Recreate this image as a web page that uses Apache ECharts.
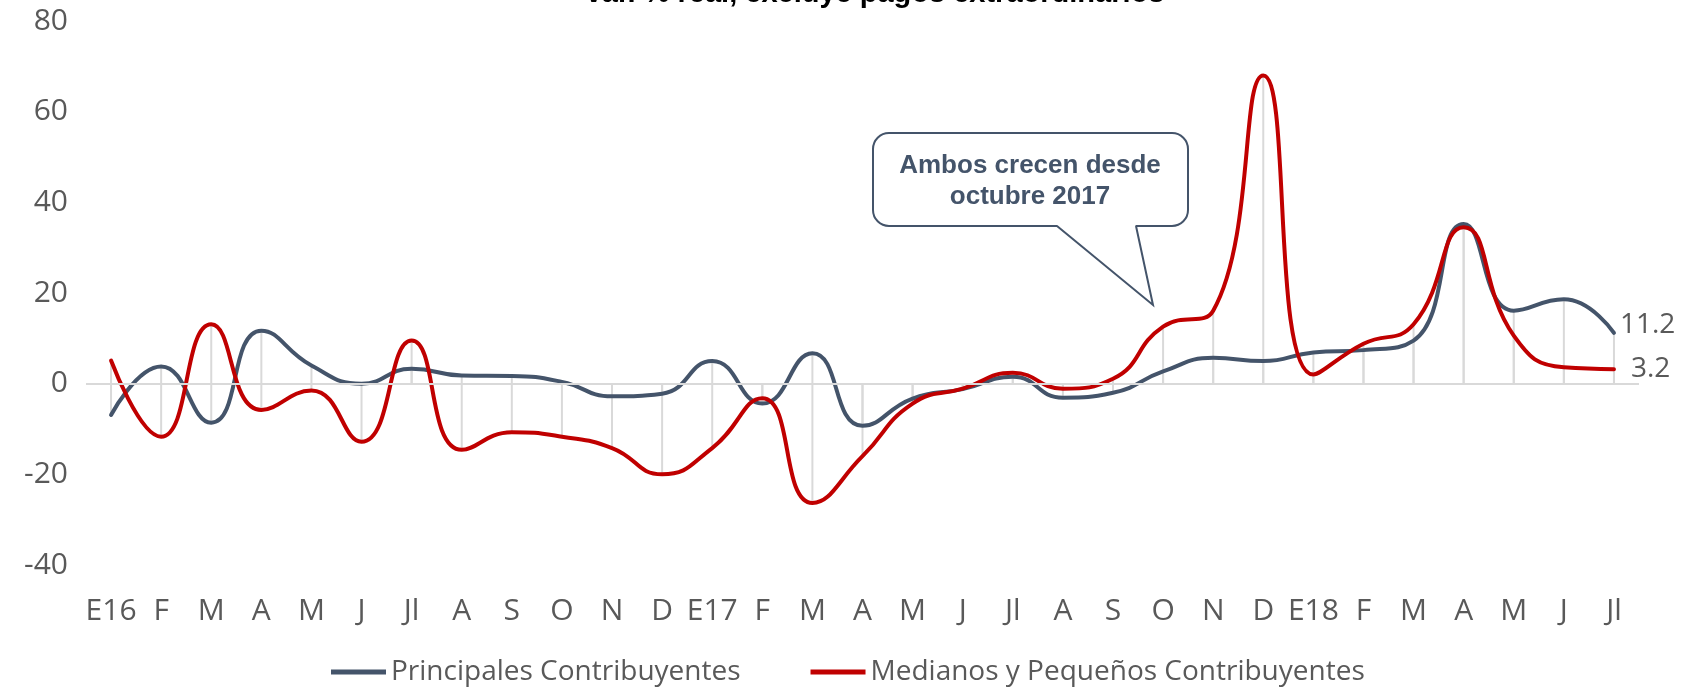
<!DOCTYPE html>
<html>
<head>
<meta charset="utf-8">
<script src="https://cdn.jsdelivr.net/npm/echarts@6/dist/echarts.min.js"></script>
<style>
  html, body { margin: 0; padding: 0; background: #fff; }
  #chart { width: 1696px; height: 687px; }
</style>
</head>
<body>
<div id="chart"></div>
<script>
// ---- data ----
var categories = ['E16','F','M','A','M','J','Jl','A','S','O','N','D',
                  'E17','F','M','A','M','J','Jl','A','S','O','N','D',
                  'E18','F','M','A','M','J','Jl'];
var principales = [-6.9, 3.8, -8.6, 11.7, 4.0, 0.0, 3.3, 1.8, 1.7, 0.4, -2.8, -2.2,
                   5.0, -4.4, 6.7, -9.3, -3.3, -1.2, 1.5, -3.1, -2.0, 2.7, 5.7, 5.0,
                   6.9, 7.4, 9.5, 35.2, 16.1, 18.6, 11.2];
var medianos = [5.1, -11.7, 13.1, -5.8, -1.5, -12.8, 9.5, -14.6, -10.7, -11.7, -14.2, -20.0,
                -14.2, -3.2, -26.3, -16.0, -4.4, -1.1, 2.4, -1.1, 1.1, 12.6, 16.1, 68.0,
                2.0, 8.8, 13.1, 34.5, 10.6, 3.6, 3.2];
var yTicks = { min: -40, max: 80, interval: 20 };
var seriesNames = ['Principales Contribuyentes', 'Medianos y Pequeños Contribuyentes'];
var titleText = 'var. % real, excluye pagos extraordinarios';
var calloutText = 'Ambos crecen desde\noctubre 2017';

var BLUE = '#44546A', RED = '#C00000', GRAY = '#595959', LIGHT = '#d9d9d9';
var FONT = '"Open Sans", sans-serif';

var chart = echarts.init(document.getElementById('chart'));
chart.setOption({
  animation: false,
  backgroundColor: '#fff',
  grid: { left: 86, right: 57, top: 21, bottom: 122, containLabel: false },
  legend: {
    left: 326, top: 653,
    icon: 'rect', itemWidth: 55, itemHeight: 5, itemGap: 70,
    textStyle: { color: GRAY, fontSize: 28, fontFamily: FONT },
    data: seriesNames
  },
  xAxis: {
    type: 'category', data: categories, boundaryGap: true,
    axisLine: { show: false, onZero: false }, axisTick: { show: false },
    axisLabel: { color: GRAY, fontSize: 30, fontFamily: FONT, interval: 0, margin: 31 },
    splitLine: { show: false }
  },
  yAxis: {
    type: 'value', min: yTicks.min, max: yTicks.max, interval: yTicks.interval,
    axisLine: { show: false }, axisTick: { show: false }, splitLine: { show: false },
    axisLabel: { color: GRAY, fontSize: 30, fontFamily: FONT, margin: 18 }
  },
  series: [
    { type: 'bar', data: principales, barWidth: 2, barGap: '-100%', silent: true,
      itemStyle: { color: LIGHT }, z: 1, legendHoverLink: false },
    { type: 'bar', data: medianos, barWidth: 2, barGap: '-100%', silent: true,
      itemStyle: { color: LIGHT }, z: 1, legendHoverLink: false,
      markLine: { silent: true, symbol: 'none', label: { show: false },
        lineStyle: { color: LIGHT, width: 2, type: 'solid' }, data: [{ yAxis: 0 }] } },
    { name: seriesNames[0], type: 'line', data: principales, smooth: 0.5,
      showSymbol: false, symbol: 'none', z: 3,
      lineStyle: { color: BLUE, width: 4, cap: 'round' }, itemStyle: { color: BLUE },
      endLabel: { show: true, formatter: '{c}', color: GRAY, fontSize: 28, fontFamily: FONT,
        distance: 6, offset: [0, -8] } },
    { name: seriesNames[1], type: 'line', data: medianos, smooth: 0.5,
      showSymbol: false, symbol: 'none', z: 4,
      lineStyle: { color: RED, width: 4, cap: 'round' }, itemStyle: { color: RED },
      endLabel: { show: true, formatter: '{c}', color: GRAY, fontSize: 28, fontFamily: FONT,
        distance: 17 } }
  ],
  graphic: [
    { type: 'text', x: 875, y: -6, z: 10,
      style: { text: titleText, fill: '#000', font: 'bold 29px "Liberation Sans", Arial',
        align: 'center', verticalAlign: 'middle' } },
    { type: 'rect', z: 10,
      shape: { x: 873, y: 133, width: 315, height: 93, r: 16 },
      style: { fill: '#fff', stroke: BLUE, lineWidth: 2 } },
    { type: 'polygon', z: 11,
      shape: { points: [[1058, 223], [1135, 223], [1136, 228], [1057, 228]] },
      style: { fill: '#fff' } },
    { type: 'polyline', z: 12,
      shape: { points: [[1057, 226], [1153, 305], [1136, 226]] },
      style: { fill: null, stroke: BLUE, lineWidth: 2 } },
    { type: 'text', x: 1030, y: 181, z: 13,
      style: { text: calloutText, fill: BLUE, font: 'bold 26px "Liberation Sans", Arial',
        align: 'center', verticalAlign: 'middle', lineHeight: 31 } }
  ]
});
</script>
</body>
</html>
